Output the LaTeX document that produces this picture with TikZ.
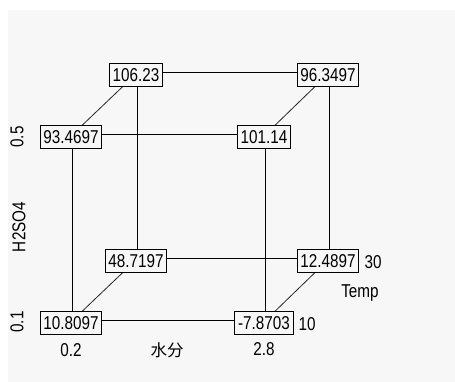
\documentclass[tikz,border=0pt]{standalone}
\usepackage{fontspec}
\usetikzlibrary{backgrounds}
\setmainfont{Liberation Sans}[FakeStretch=0.82]
\newfontfamily\cjk{Noto Sans CJK SC}
\definecolor{panel}{HTML}{F7F7F7}
\begin{document}
\begin{tikzpicture}[x=1pt,y=-1pt,
  every node/.style={font=\fontsize{18.6}{20}\selectfont, inner sep=0pt},
  valbox/.style={draw=black, line width=1.1pt, fill=panel, inner xsep=3.2pt, inner ysep=5pt, text height=13.3pt, text depth=0pt},
  edge/.style={draw=black, line width=1.1pt},
  diag/.style={draw=black!85, line width=0.8pt}]
\useasboundingbox (0,0) rectangle (455,382);
% value boxes
\node[valbox] (a) at (136,75) {106.23};
\node[valbox] (b) at (328,75) {96.3497};
\node[valbox] (c) at (71,137) {93.4697};
\node[valbox] (d) at (264,137) {101.14};
\node[valbox] (e) at (136,261) {48.7197};
\node[valbox] (f) at (328,261) {12.4897};
\node[valbox] (g) at (71,323) {10.8097};
\node[valbox] (h) at (264,323) {-7.8703};
% axis labels
\node[rotate=90] (l05) at (17,137) {0.5};
\node[rotate=90] (lh2) at (19,227) {H2SO4};
\node[rotate=90] (l01) at (17,322) {0.1};
\node (l02) at (71,350) {0.2};
\node (lw) at (167,350) {\cjk\fontsize{16.5}{18}\selectfont 水分};
\node (l28) at (264,349) {2.8};
\node (l10) at (307,324) {10};
\node (l30) at (373,262) {30};
\node (lt) at (360,293) {Temp};
% connectors
\begin{pgfonlayer}{background}
\fill[panel] (8,10) rectangle (455,382);
\tikzset{sh/.style={shift={(1.5,-2.5)}}}
\draw[edge] ([sh]a.center) -- ([sh]b.center);
\draw[edge] ([sh]c.center) -- ([sh]d.center);
\draw[edge] ([sh]e.center) -- ([sh]f.center);
\draw[edge] ([sh]g.center) -- ([sh]h.center);
\draw[edge] ([sh]a.center) -- ([sh]e.center);
\draw[edge] ([sh]b.center) -- ([sh]f.center);
\draw[edge] ([sh]c.center) -- ([sh]g.center);
\draw[edge] ([sh]d.center) -- ([sh]h.center);
\draw[diag] ([sh]a.center) -- ([sh]c.center);
\draw[diag] ([sh]b.center) -- ([sh]d.center);
\draw[diag] ([sh]e.center) -- ([sh]g.center);
\draw[diag] ([sh]f.center) -- ([sh]h.center);
\end{pgfonlayer}
\end{tikzpicture}
\end{document}
